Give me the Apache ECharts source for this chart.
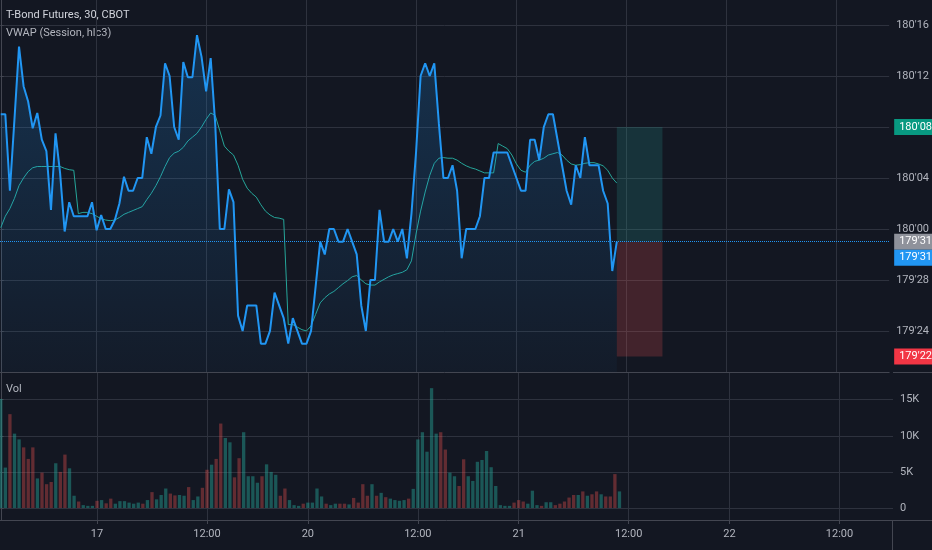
<!DOCTYPE html>
<html>
<head>
<meta charset="utf-8">
<title>T-Bond Futures, 30, CBOT</title>
<script src="https://cdn.jsdelivr.net/npm/echarts@6/dist/echarts.min.js"></script>
<style>
  html, body { margin: 0; padding: 0; background: #131722; }
  #chart { width: 932px; height: 550px; }
</style>
</head>
<body>
<div id="chart"></div>
<script>
// close prices, in 32nds relative to 180'00 (so -1 = 179'31)
var price = [
  9, 9, 3, 8.6, 14.3, 11.2, 10, 7.9, 9.1, 7, 6.1, 1.5, 7.5, 4.4, -0.2, 2.1, 1,
  1, 1, 1, 2.1, -0.1, 1.1, 0, 0, 0.7, 2, 4.1, 3, 3, 4, 4, 7.2, 5.9, 8, 8.9,
  13, 12, 8, 7, 13.1, 11.9, 11.9, 15.2, 13.5, 10.8, 13.4, 8.2, 0, 0, 3.1, 2.1,
  -6.8, -8, -6, -6, -6, -9, -9, -8, -5, -6, -7,
  -9, -7, -8, -9, -9, -8, -4.5, -1, -2, 0, 0, -1, -1, 0, -1, -2, -6, -8, -4, -4,
  1.5, -1, -1, 0, -1, 0, -2.3, 1.2, 6, 12, 13, 12, 13, 8.3, 4, 4, 5, 3, -2.3,
  0, 0, 0, 1, 4, 4, 6,
  6, 6, 6, 5, 4, 3, 3, 7, 7, 5.4, 8, 9, 9, 7, 5, 3, 1.9, 5, 4, 7.2, 5, 5, 5,
  3, 2, -3.3, -1
];
// session VWAP (hlc3), same units
var vwap = [
  0.1, 1, 1.6, 2.4, 3.4, 4, 4.5, 4.8, 4.9, 4.9, 4.9, 4.9, 4.9, 4.9, 4.75, 4.65, 4.6,
  1.2, 1.3, 1.3, 1.2, 1, 0.8, 0.7, 0.65, 0.7, 0.9, 1.15, 1.3, 1.45, 1.6, 1.75,
  2.3, 2.8, 3.4, 4.1, 4.9, 5.6, 5.95, 6.1, 6.4, 6.9, 7.2, 7.5, 8, 8.6, 9.1, 8.9,
  7.7, 6.5, 6.1, 5.8, 5, 3.9, 3.2, 2.8, 2.5, 1.9, 1.4, 1.1, 0.9, 0.85, 0.75,
  -7.5, -7.5, -7.7, -7.9, -8, -7.6, -6.7, -5.8, -5.4, -5.1, -4.9, -4.6, -4.3,
  -4.05, -3.75, -3.65, -4, -4.3, -4.4, -4.4, -4.15, -3.95, -3.75, -3.6, -3.5,
  -3.4, -3.2, -2.5, -0.4, 1.4, 2.9, 4.2, 5.15, 5.55, 5.6, 5.55, 5.55, 5.4, 5.15,
  4.95, 4.8, 4.7, 4.55, 4.4, 4.4, 4.4,
  6.7, 6.5, 6.3, 5.8, 5.1, 4.6, 4.45, 5, 5.3, 5.4, 5.55, 5.8, 5.9, 6, 5.8, 5.4,
  5.1, 5, 5.05, 5.15, 5.2, 5.2, 5.1, 4.95, 4.6, 4, 3.6
];
// volume in thousands
var volume = [
  15.1, 5.6, 13, 10.3, 9.5, 8.4, 6.8, 8.4, 4.1, 4.9, 3.3, 3.6, 6.2, 5, 7.4, 5.5, 1.7,
  0.9, 0.4, 0.3, 0.3, 1, 1.1, 0.65, 1.3, 0.6, 0.95, 0.95, 0.75, 0.6, 0.75, 0.6,
  1.1, 2.2, 1.2, 1.8, 2.7, 2, 1.75, 1.8, 1.7, 2.9, 1.1, 1.6, 2.8, 5.3, 6, 6.8,
  11.7, 9.7, 9.1, 4.25, 6.9, 10.5, 4.4, 4.4, 3.5, 4.4, 6.05, 5, 4.6, 1.7, 2.7,
  1.1, 0.4, 0.3, 0.6, 0.75, 0.75, 2.7, 1.6, 0.6, 0.4, 0.6, 0.6, 0.6, 0.5, 1.4,
  0.75, 3.3, 1.7, 3.3, 1.7, 2.1, 1.5, 1.3, 1.1, 1, 1.1, 1.3, 2.65, 9.5, 10.5,
  7.8, 16.6, 10.3, 10.5, 8.1, 4.9, 4.4, 3.05, 6.75, 4.4, 3.75, 6.4, 6.65, 7.9,
  5.65, 3.05,
  0.4, 0.3, 0.3, 0.75, 1.1, 0.9, 0.6, 2.4, 0.4, 0.3, 0.8, 0.8, 0.4, 0.6, 0.9,
  1.45, 1.8, 1.8, 2.3, 1.7, 1.9, 2.3, 1.9, 1.6, 1.6, 4.7, 2.3
];
// 1 = up bar, 0 = down bar
var volUp = [
  1, 1, 0, 1, 1, 0, 0, 0, 1, 0, 0, 0, 1, 0, 0, 1, 1,
  0, 1, 1, 1, 0, 1, 0, 0, 1, 1, 1, 1, 1, 1, 0,
  1, 0, 1, 1, 1, 0, 0, 1, 1, 0, 1, 1, 0, 0, 1, 0,
  0, 1, 1, 0, 0, 1, 1, 1, 1, 0, 1, 1, 1, 0, 0,
  1, 1, 1, 0, 1, 1, 1, 1, 0, 1, 1, 0, 0, 1, 0,
  0, 0, 0, 1, 0, 1, 0, 1, 1, 1, 1, 0, 1, 1, 1,
  1, 1, 1, 0, 0, 1, 1, 0, 0, 1, 1, 1, 1, 1,
  1, 1,
  1, 1, 1, 0, 0, 0, 1, 1, 1, 0, 1, 1, 0, 0, 0,
  0, 0, 1, 0, 1, 0, 0, 1, 0, 0, 0, 1
];
var xTickIdx = [21, 45, 67, 91, 113, 137, 159, 183];
var xTickLabels = ['17', '12:00', '20', '12:00', '21', '12:00', '22', '12:00'];
var priceTicks = [-8, -4, 0, 4, 8, 12, 16];
var volTicks = [0, 5, 10, 15];
var lastPrice = -1;
var target = 8;
var stop = -10;
var posStart = 135;
var posEnd = 145;

var FONT = "Roboto, 'Noto Sans', sans-serif";
var gridColor = '#2e323e';
var lineColor = '#434651';
var textColor = '#b2b5be';
var hidden = 'rgba(0,0,0,0)';

function fmt32(v) {
  var h = v >= 0 ? 180 : 179;
  var t = v >= 0 ? v : 32 + v;
  return h + "'" + (t < 10 ? '0' : '') + t;
}

// coloured price tag on the right scale
function tagLabel(text, bg, dy) {
  return {
    show: true,
    position: 'end',
    distance: 0,
    formatter: text,
    color: '#ffffff',
    backgroundColor: bg,
    padding: [3, 2, 2, 5],
    fontSize: 11,
    fontFamily: FONT,
    offset: [5, dy || 0]
  };
}

var chart = echarts.init(document.getElementById('chart'));

var volData = volume.map(function (v, i) {
  return {
    value: [i, v],
    itemStyle: {color: volUp[i] ? 'rgba(38,166,154,0.45)' : 'rgba(239,83,80,0.36)'}
  };
});

var option = {
  backgroundColor: '#131722',
  animation: false,
  grid: [
    {left: 0, right: 39, top: 0, height: 372},
    {left: 0, right: 39, top: 373, height: 147}
  ],
  xAxis: [
    {
      type: 'value', gridIndex: 0, min: -0.166, max: 194.68,
      axisLine: {show: true, onZero: false, lineStyle: {color: lineColor}},
      axisTick: {show: false, customValues: xTickIdx},
      axisLabel: {show: false, customValues: xTickIdx},
      splitLine: {show: true, lineStyle: {color: gridColor}}
    },
    {
      type: 'value', gridIndex: 1, min: -0.166, max: 194.68,
      axisLine: {show: true, onZero: false, lineStyle: {color: lineColor}},
      axisTick: {show: true, length: 4, customValues: xTickIdx, lineStyle: {color: lineColor}},
      axisLabel: {
        customValues: xTickIdx, color: textColor, fontSize: 11, fontFamily: FONT, margin: 9,
        formatter: function (v) { return xTickLabels[xTickIdx.indexOf(Math.round(v))] || ''; }
      },
      splitLine: {show: true, lineStyle: {color: gridColor}}
    }
  ],
  yAxis: [
    {
      type: 'value', gridIndex: 0, position: 'right', min: -11.22, max: 17.96,
      axisLine: {show: true, lineStyle: {color: lineColor}},
      axisTick: {show: true, length: 3, customValues: priceTicks, lineStyle: {color: lineColor}},
      axisLabel: {customValues: priceTicks, formatter: fmt32, color: textColor, fontSize: 11, fontFamily: FONT, margin: 7},
      splitLine: {show: true, lineStyle: {color: gridColor}}
    },
    {
      type: 'value', gridIndex: 1, position: 'right', min: -1.66, max: 18.7,
      axisLine: {show: true, lineStyle: {color: lineColor}},
      axisTick: {show: true, length: 3, customValues: volTicks, lineStyle: {color: lineColor}},
      axisLabel: {
        customValues: volTicks, color: textColor, fontSize: 11, fontFamily: FONT, margin: 7,
        formatter: function (v) { return v === 0 ? '0' : v + 'K'; }
      },
      splitLine: {show: true, lineStyle: {color: gridColor}}
    }
  ],
  graphic: [
    {type: 'text', left: 6, top: 10, style: {text: 'T-Bond Futures, 30, CBOT', fill: '#d1d4dc', fontSize: 11, fontFamily: FONT}},
    {type: 'text', left: 6, top: 28, style: {text: 'VWAP (Session, hlc3)', fill: textColor, fontSize: 11, fontFamily: FONT}},
    {type: 'text', left: 6, top: 384, style: {text: 'Vol', fill: textColor, fontSize: 11, fontFamily: FONT}},
    {type: 'line', shape: {x1: 892.5, y1: 520, x2: 892.5, y2: 550}, style: {stroke: lineColor}},
    {type: 'line', shape: {x1: 893, y1: 520.5, x2: 932, y2: 520.5}, style: {stroke: lineColor}},
    {type: 'line', shape: {x1: 893, y1: 372.5, x2: 932, y2: 372.5}, style: {stroke: lineColor}}
  ],
  series: [
    {
      name: 'T-Bond', type: 'line', xAxisIndex: 0, yAxisIndex: 0,
      data: price.map(function (v, i) { return [i, v]; }),
      showSymbol: false,
      lineStyle: {color: '#2196f3', width: 2},
      areaStyle: {
        origin: 'start',
        color: new echarts.graphic.LinearGradient(0, 0, 0, 1, [
          {offset: 0, color: 'rgba(33,150,243,0.3)'},
          {offset: 1, color: 'rgba(33,150,243,0.05)'}
        ])
      },
      z: 3,
      markArea: {
        silent: true,
        data: [
          [{xAxis: posStart, yAxis: lastPrice, itemStyle: {color: 'rgba(38,166,154,0.2)'}}, {xAxis: posEnd, yAxis: target}],
          [{xAxis: posStart, yAxis: stop, itemStyle: {color: 'rgba(239,83,80,0.22)'}}, {xAxis: posEnd, yAxis: lastPrice}]
        ]
      },
      markLine: {
        silent: true,
        symbol: 'none',
        data: [
          {yAxis: target, lineStyle: {color: hidden}, label: tagLabel(fmt32(target), '#089981')},
          {yAxis: stop, lineStyle: {color: hidden}, label: tagLabel(fmt32(stop), '#f23645')},
          {yAxis: lastPrice, lineStyle: {color: '#2196f3', type: 'dotted', width: 1}, label: tagLabel(fmt32(lastPrice), '#8f929b')},
          {yAxis: lastPrice, lineStyle: {color: hidden}, label: tagLabel(fmt32(lastPrice), '#2196f3', 16)}
        ]
      }
    },
    {
      name: 'VWAP', type: 'line', xAxisIndex: 0, yAxisIndex: 0,
      data: vwap.map(function (v, i) { return [i, v]; }),
      showSymbol: false,
      lineStyle: {color: '#26a69a', width: 1},
      z: 2
    },
    {
      name: 'Vol', type: 'bar', xAxisIndex: 1, yAxisIndex: 1,
      data: volData,
      barWidth: 3.3
    }
  ]
};

chart.setOption(option);
</script>
</body>
</html>
